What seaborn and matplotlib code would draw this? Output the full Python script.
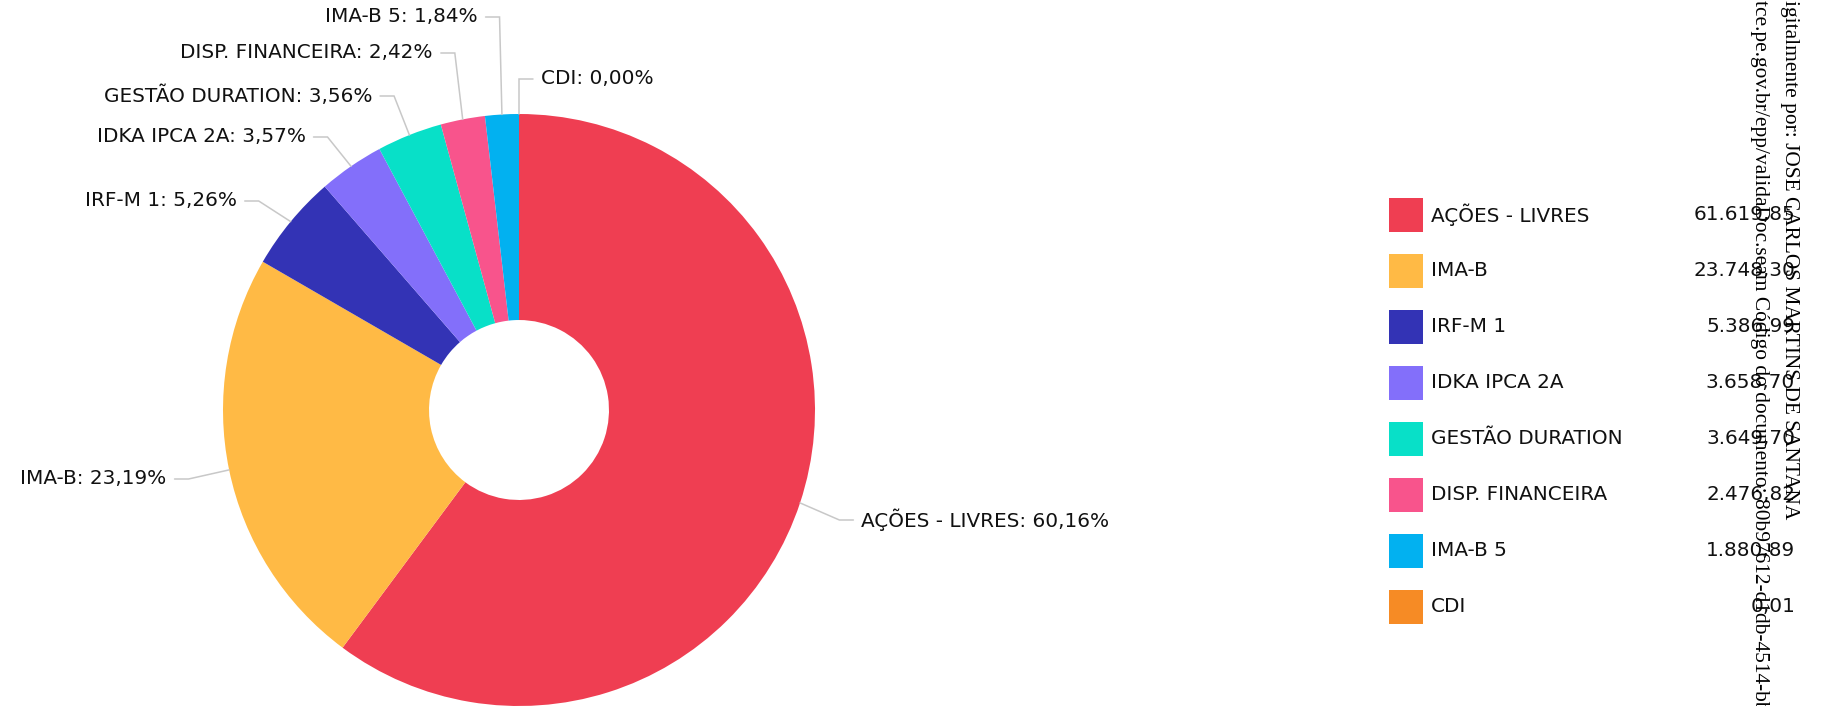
import numpy as np
import matplotlib.pyplot as plt
import seaborn as sns

# Data
categories = ['AÇÕES - LIVRES', 'IMA-B', 'IRF-M 1', 'IDKA IPCA 2A',
              'GESTÃO DURATION', 'DISP. FINANCEIRA', 'IMA-B 5', 'CDI']
values = [61619.85, 23748.30, 5386.99, 3658.70, 3649.70, 2476.82, 1880.89, 0.01]
colors = ['#EF3E52', '#FFBA45', '#3333B5', '#836FFA',
          '#08E0C8', '#F8548C', '#02B1F0', '#F68B25']

# label heights (pixels from the bottom of the figure) after de-overlapping
label_y = [186, 227, 505, 569, 610, 653, 689, 627]

sns.set_theme(style='white')
plt.rcParams['font.family'] = ['DejaVu Sans']

W, H = 1821, 706
fig = plt.figure(figsize=(W / 100, H / 100), dpi=100)
ax = fig.add_axes([0, 0, 1, 1])

cx, cy, R = 519, 296, 296
wedges, _ = ax.pie(values, colors=colors, startangle=90, counterclock=False,
                   center=(cx, cy), radius=R,
                   wedgeprops=dict(width=R * 0.696, linewidth=0))

ax.set_xlim(0, W)
ax.set_ylim(0, H)
ax.set_aspect('auto')
ax.axis('off')

fs = 14.4
total = sum(values)


def br(v, d=2):
    s = f'{v:,.{d}f}'
    return s.replace(',', '#').replace('.', ',').replace('#', '.')


# outside labels with bent leader lines
for w, name, v, ly in zip(wedges, categories, values, label_y):
    mid = np.deg2rad((w.theta1 + w.theta2) / 2)
    ax_, ay_ = cx + R * np.cos(mid), cy + R * np.sin(mid)
    ex = cx + 1.14 * R * np.cos(mid)
    side = 1 if np.cos(mid) >= -1e-9 else -1
    hx = ex + side * 14
    ax.plot([ax_, ex, hx], [ay_, ly, ly], color='#c8c8c8', lw=1.1,
            solid_joinstyle='miter')
    ax.text(hx + side * 8, ly, f'{name}: {br(100 * v / total)}%',
            ha='left' if side > 0 else 'right', va='center',
            fontsize=fs, color='#111111')

# legend with values
for i, (name, v, c) in enumerate(zip(categories, values, colors)):
    yc = H - (215 + 56 * i)
    ax.add_patch(plt.Rectangle((1389, yc - 17), 34, 34, color=c, lw=0))
    ax.text(1431, yc, name, ha='left', va='center', fontsize=fs, color='#111111')
    ax.text(1795, yc, br(v), ha='right', va='center', fontsize=fs, color='#111111')

# digital signature stamp on the right edge
ax.text(1790, H, 'igitalmente por: JOSE CARLOS MARTINS DE SANTANA',
        rotation=-90, ha='center', va='top', fontsize=15.4,
        family='Liberation Serif', color='black')
ax.text(1759, H, 'tce.pe.gov.br/epp/validaDoc.seam Código do documento: '
        '80b97612-d1db-4514-bb',
        rotation=-90, ha='center', va='top', fontsize=15.4,
        family='Liberation Serif', color='black')

plt.savefig('out.png', dpi=100)
